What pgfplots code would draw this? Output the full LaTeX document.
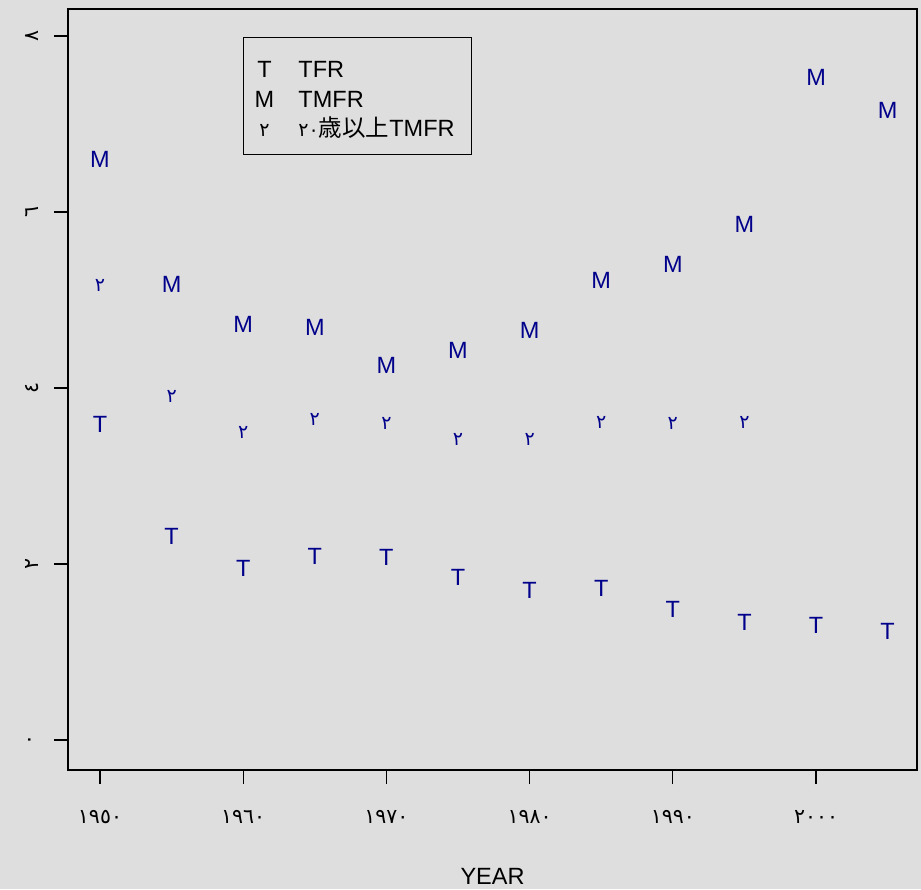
\documentclass[border=0pt]{standalone}
\usepackage{fontspec}
\setmainfont{Liberation Sans}
\newfontfamily\arabicfont{DejaVu Sans}
\newfontfamily\cjk{Noto Sans CJK JP}
\usepackage{pgfplots}
\pgfplotsset{compat=1.18}
\definecolor{bg}{RGB}{222,222,222}
\definecolor{ptc}{RGB}{0,0,139}
\newcommand{\mainsize}{\fontsize{23.5}{28}\selectfont}
\newcommand{\ticksize}{\fontsize{20.5}{24}\selectfont}
\newcommand{\digsize}{\fontsize{19}{22}\selectfont}
\begin{document}
\begin{tikzpicture}
\useasboundingbox (-68pt,-119pt) rectangle (853pt,770pt);
\fill[bg] (-68pt,-119pt) rectangle (853pt,770pt);
\begin{axis}[
  at={(0,0)}, anchor=south west,
  scale only axis, width=849pt, height=761pt,
  xmin=1947.765, xmax=2007.05,
  ymin=-0.341, ymax=8.307,
  axis line style={line width=1.3pt},
  tick pos=left, tick align=outside,
  major tick length=14pt,
  every tick/.style={line width=1.3pt, black},
  xtick={1950,1960,1970,1980,1990,2000},
  xticklabels={١٩٥٠,١٩٦٠,١٩٧٠,١٩٨٠,١٩٩٠,٢٠٠٠},
  ytick={0,2,4,6,8},
  yticklabels={٠,٢,٤,٦,٨},
  xticklabel style={font=\arabicfont\ticksize, anchor=center, yshift=-33pt},
  yticklabel style={font=\arabicfont\ticksize, rotate=90, anchor=center, yshift=22pt},
  xlabel={YEAR},
  xlabel style={font=\mainsize, at={(axis description cs:0.5,0)}, anchor=center, yshift=-106pt},
  legend style={at={(rel axis cs:0.2061,0.9632)}, anchor=north west,
    draw=black, line width=1pt, fill=bg,
    inner xsep=9pt, inner ysep=14.25pt, row sep=0pt, column sep=22pt,
    nodes={inner sep=0pt, text depth=0pt, text height=0pt, font=\mainsize, anchor=base west}},
  legend cell align=left,
  text mark as node=true,
]
\addlegendimage{legend image code/.code={\path[draw=none,fill=none] (-12pt,-3.35pt) rectangle (12pt,26pt); \node[anchor=base, inner sep=0pt, font=\mainsize, text=black] at (0,0) {T};}}
\addlegendentry{TFR}
\addlegendimage{legend image code/.code={\path[draw=none,fill=none] (-12pt,-3.35pt) rectangle (12pt,26pt); \node[anchor=base, inner sep=0pt, font=\mainsize, text=black] at (0,0) {M};}}
\addlegendentry{TMFR}
\addlegendimage{legend image code/.code={\path[draw=none,fill=none] (-12pt,-3.35pt) rectangle (12pt,26pt); \node[anchor=base, inner sep=0pt, font=\arabicfont\digsize, text=black] at (0,0) {٢};}}
\addlegendentry{{\arabicfont\digsize ٢٠}{\cjk 歳以上}TMFR\rule{8pt}{0pt}}

\addplot[forget plot, only marks, mark=text, text mark={T},
  text mark style={font=\mainsize, text=ptc, inner sep=0pt, anchor=center}]
coordinates {(1950,3.59) (1955,2.31) (1960,1.95) (1965,2.09) (1970,2.08) (1975,1.85)
 (1980,1.70) (1985,1.72) (1990,1.48) (1995,1.34) (2000,1.30) (2005,1.23)};
\addplot[forget plot, only marks, mark=text, text mark={M},
  text mark style={font=\mainsize, text=ptc, inner sep=0pt, anchor=center}]
coordinates {(1950,6.595) (1955,5.18) (1960,4.72) (1965,4.69) (1970,4.26) (1975,4.43)
 (1980,4.65) (1985,5.22) (1990,5.41) (1995,5.86) (2000,7.53) (2005,7.15)};
\addplot[forget plot, only marks, mark=text, text mark={٢},
  text mark style={font=\arabicfont\digsize, text=ptc, inner sep=0pt, anchor=center}]
coordinates {(1950,5.16) (1955,3.90) (1960,3.49) (1965,3.64) (1970,3.60) (1975,3.41)
 (1980,3.42) (1985,3.61) (1990,3.60) (1995,3.61)};
\end{axis}
\end{tikzpicture}
\end{document}
